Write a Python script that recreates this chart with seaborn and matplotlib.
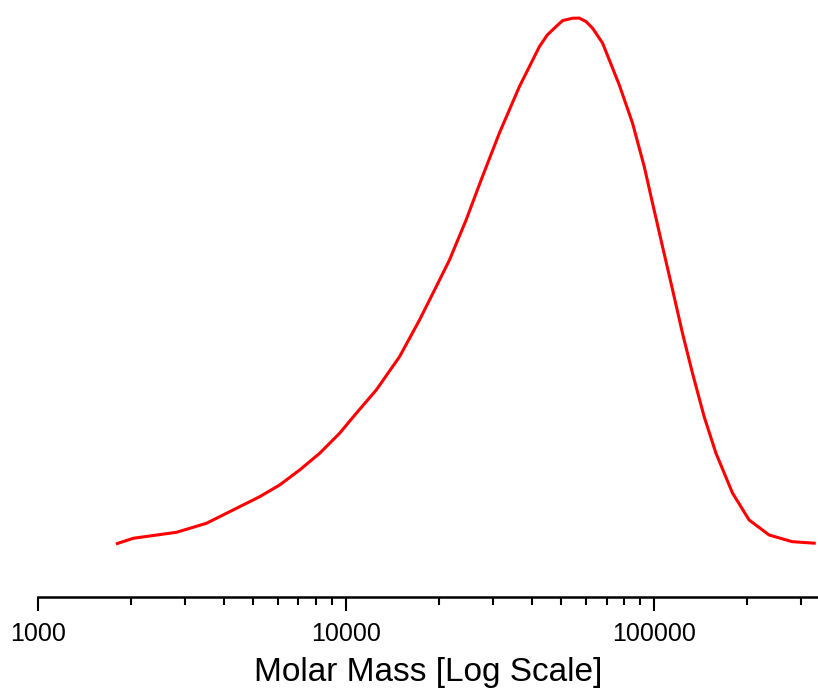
import numpy as np
import pandas as pd
import matplotlib
matplotlib.use("Agg")
import matplotlib.pyplot as plt
import seaborn as sns
from matplotlib.ticker import LogLocator, FixedLocator, NullFormatter

# molar mass distribution (relative signal)
molar_mass = [1790, 2037, 2816, 3523, 4515, 5243, 6088, 7069, 8206, 9527,
              10790, 12530, 14910, 17310, 19610, 21650, 24520, 27430, 31450,
              36510, 42390, 44990, 48020, 50440, 54350, 57140, 60050, 63100,
              67990, 77000, 85040, 92810, 98740, 106400, 114700, 123500,
              133100, 145200, 158500, 179400, 203200, 235900, 280200, 334300]
signal = [0.000, 0.0108, 0.0222, 0.0394, 0.0709, 0.0899, 0.1122, 0.1407, 0.1724, 0.2105,
          0.2485, 0.2928, 0.3561, 0.4259, 0.4892, 0.5399, 0.6160, 0.6920, 0.7814,
          0.8694, 0.9454, 0.9677, 0.9835, 0.9949, 0.9994, 0.9996, 0.9930, 0.9804,
          0.9519, 0.8726, 0.7998, 0.7173, 0.6477, 0.5652, 0.4829, 0.4006,
          0.3245, 0.2420, 0.1730, 0.0970, 0.0456, 0.0171, 0.0044, 0.0013]

tick_values = [1000, 10000, 100000]
tick_labels = ["1000", "10000", "100000"]

df = pd.DataFrame({"mass": molar_mass, "signal": signal})

sns.set_style("white")
plt.rcParams['font.family'] = ['Liberation Sans', 'DejaVu Sans']
plt.rcParams['text.color'] = 'black'
plt.rcParams['xtick.color'] = 'black'
plt.rcParams['axes.labelcolor'] = 'black'

fig = plt.figure(figsize=(8.18, 6.97), dpi=100)
ax = fig.add_axes([38 / 818, 100 / 697, 1 - 38 / 818, 597 / 697])

sns.lineplot(data=df, x="mass", y="signal", color="#ff0000", linewidth=2.2,
             solid_joinstyle="round", solid_capstyle="butt", ax=ax)

ax.set_xscale("log")
ax.set_xlim(1000, 340000)
ax.set_ylim(-0.1008, 1.034)

ax.xaxis.set_major_locator(FixedLocator(tick_values))
ax.set_xticklabels(tick_labels)
ax.xaxis.set_minor_locator(LogLocator(base=10, subs=np.arange(2, 10)))
ax.xaxis.set_minor_formatter(NullFormatter())
ax.tick_params(axis="x", which="both", bottom=True, direction="out", width=1.5,
               color="black", labelcolor="black")
ax.tick_params(axis="x", which="major", length=10, labelsize=18, pad=8)
ax.tick_params(axis="x", which="minor", length=6)
ax.set_yticks([])

for side in ["top", "right", "left"]:
    ax.spines[side].set_visible(False)
ax.spines["bottom"].set_linewidth(1.8)
ax.spines["bottom"].set_color("black")

ax.set_xlabel("Molar Mass [Log Scale]", fontsize=24, labelpad=8)
ax.set_ylabel("")

fig.savefig("out.png", dpi=100)
